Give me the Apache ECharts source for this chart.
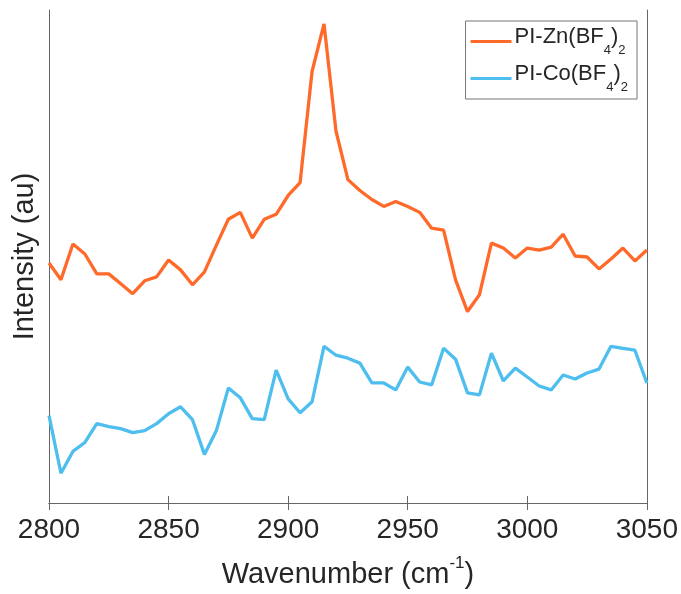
<!DOCTYPE html>
<html>
<head>
<meta charset="utf-8">
<script src="https://cdn.jsdelivr.net/npm/echarts@6/dist/echarts.min.js"></script>
<style>html,body{margin:0;padding:0;background:#fff}#c{width:681px;height:594px}</style>
</head>
<body>
<div id="c"></div>
<script>
const wavenumbers = [2800,2805,2810,2815,2820,2825,2830,2835,2840,2845,2850,2855,2860,2865,2870,2875,2880,2885,2890,2895,2900,2905,2910,2915,2920,2925,2930,2935,2940,2945,2950,2955,2960,2965,2970,2975,2980,2985,2990,2995,3000,3005,3010,3015,3020,3025,3030,3035,3040,3045,3050];
const znValues = [242,225,261,251,231,231,221,211,224,228,245,235,220,233,260,286,293,267,286,291,310,323,435,483,375,326,315,306,299,304,299,293,277,275,225,193,210,262,257,247,257,255,258,271,249,248,236,246,257,244,255];
const coValues = [88,30,52,61,80,77,75,71,73,80,90,97,84,49,73,116,106,85,84,134,105,91,102,158,149,146,141,121,121,114,137,122,119,156,145,111,109,151,123,136,127,118,114,129,125,131,135,158,156,154,121];
const xTicks = [2800,2850,2900,2950,3000,3050];
const seriesNames = ['PI-Zn(BF4)2','PI-Co(BF4)2'];

const chart = echarts.init(document.getElementById('c'));
const font = '"Liberation Sans", Arial, Helvetica, sans-serif';
const axisCol = '#666';
const txt = '#262626';
chart.setOption({
  animation: false,
  textStyle: {fontFamily: font},
  grid: {left: 49, right: 33, top: 10, bottom: 87},
  legend: {
    orient: 'vertical', right: 44, top: 21,
    backgroundColor: '#fff', borderColor: '#777', borderWidth: 1,
    padding: [5, 9, 5, 5], itemWidth: 41, itemHeight: 3, itemGap: 6,
    icon: 'rect',
    data: seriesNames,
    formatter: function (n) {
      const m = n.match(/^(.*)\(BF4\)2$/);
      return '{a|' + m[1] + '(BF}{s|4}{a|)}{s|2}';
    },
    textStyle: {
      color: txt, fontFamily: font, padding: [0, 0, 0, -2],
      rich: {
        a: {fontSize: 22, lineHeight: 22, verticalAlign: 'top', color: txt, fontFamily: font},
        s: {fontSize: 13, lineHeight: 31, verticalAlign: 'bottom', color: txt, fontFamily: font}
      }
    }
  },
  xAxis: [{
    type: 'value', min: 2800, max: 3050, interval: 50,
    name: '{a|Wavenumber (cm}{p|-1}{a|)}', nameLocation: 'middle', nameGap: 52,
    nameTextStyle: {
      rich: {
        a: {fontSize: 29, lineHeight: 29, verticalAlign: 'bottom', color: txt, fontFamily: font},
        p: {fontSize: 17, lineHeight: 34, verticalAlign: 'top', color: txt, fontFamily: font}
      }
    },
    axisLine: {show: true, lineStyle: {color: axisCol, width: 1}},
    axisTick: {show: true, inside: true, length: 7, lineStyle: {color: axisCol}},
    axisLabel: {fontSize: 28, color: txt, margin: 13, fontFamily: font,
      formatter: v => xTicks.indexOf(v) >= 0 ? String(v) : ''},
    splitLine: {show: false}
  }, {
    type: 'value', position: 'top', min: 2800, max: 3050, interval: 50,
    axisLine: {show: true, lineStyle: {color: axisCol, width: 1}},
    axisTick: {show: true, inside: true, length: 7, lineStyle: {color: axisCol}},
    axisLabel: {show: false}, splitLine: {show: false}
  }],
  yAxis: [{
    type: 'value', min: 0, max: 497,
    name: 'Intensity (au)', nameLocation: 'middle', nameGap: 10,
    nameTextStyle: {fontSize: 29, color: txt, fontFamily: font},
    axisLine: {show: true, lineStyle: {color: axisCol, width: 1}},
    axisTick: {show: false}, axisLabel: {show: false}, splitLine: {show: false}
  }, {
    type: 'value', position: 'right', min: 0, max: 497,
    axisLine: {show: true, lineStyle: {color: axisCol, width: 1}},
    axisTick: {show: false}, axisLabel: {show: false}, splitLine: {show: false}
  }],
  series: [{
    name: seriesNames[0], type: 'line', symbol: 'none',
    lineStyle: {color: '#FF6A2A', width: 3.3}, itemStyle: {color: '#FF6A2A'},
    data: wavenumbers.map((w, i) => [w, znValues[i]])
  }, {
    name: seriesNames[1], type: 'line', symbol: 'none',
    lineStyle: {color: '#4DBEEE', width: 3.3}, itemStyle: {color: '#4DBEEE'},
    data: wavenumbers.map((w, i) => [w, coValues[i]])
  }]
});
</script>
</body>
</html>
